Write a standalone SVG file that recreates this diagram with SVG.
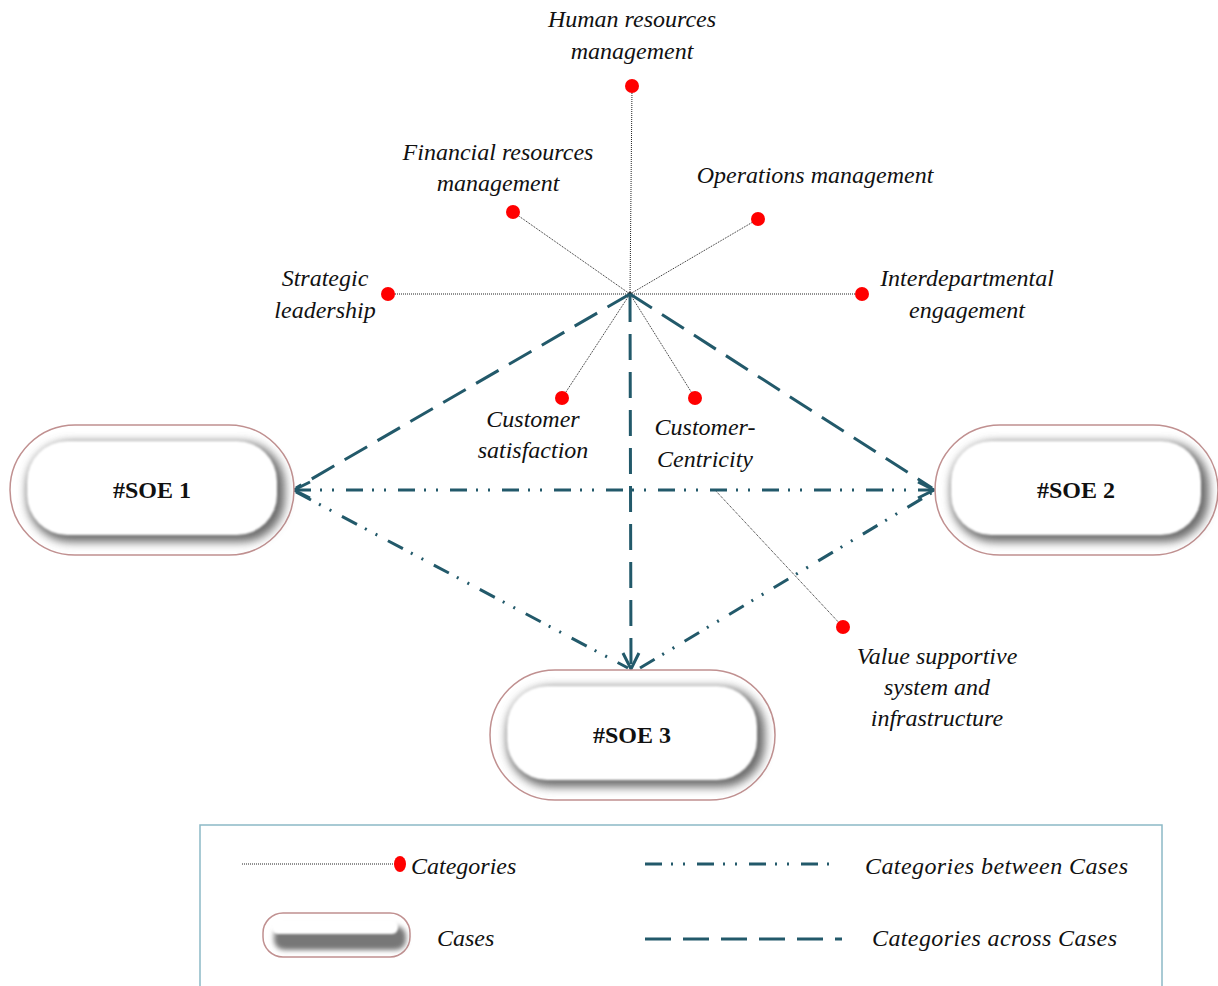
<svg xmlns="http://www.w3.org/2000/svg" width="1218" height="986" viewBox="0 0 1218 986">
<style>
.lbl{font-family:"Liberation Serif","Times New Roman",serif;font-style:italic;font-size:24px;fill:#111;text-anchor:middle}
.leg{font-family:"Liberation Serif","Times New Roman",serif;font-style:italic;font-size:24px;fill:#111}
.case{font-family:"Liberation Serif","Times New Roman",serif;font-weight:bold;font-size:24px;fill:#111;text-anchor:middle}
.cat{stroke:#222;stroke-width:1;stroke-dasharray:1 1;fill:none}
.dot{fill:#f00}
.across{stroke:#22596a;stroke-width:3;stroke-dasharray:26 12;fill:none}
.between{stroke:#22596a;stroke-width:3;stroke-dasharray:17 9 2 10 2 12;fill:none}
.outer{fill:#fff;stroke:#c09090;stroke-width:1.5}
.shade{fill:#6a6a6a;filter:url(#blur)}
.inner{fill:#fff;filter:url(#soft)}
</style>
<defs>
<filter id="blur" x="-20%" y="-30%" width="140%" height="160%"><feGaussianBlur stdDeviation="5"/></filter>
<filter id="soft" x="-10%" y="-20%" width="120%" height="140%"><feGaussianBlur stdDeviation="1.2"/></filter>
<filter id="blur2" x="-20%" y="-50%" width="140%" height="200%"><feGaussianBlur stdDeviation="2.5"/></filter>
<marker id="arr" markerUnits="userSpaceOnUse" markerWidth="20" markerHeight="20" refX="17" refY="9" orient="auto-start-reverse" viewBox="0 0 20 18">
<path d="M1,1 L17,9 L1,17" fill="none" stroke="#22596a" stroke-width="3"/>
</marker>
</defs>
<rect width="1218" height="986" fill="#fff"/>

<g id="connectors">
<line class="cat" x1="630" y1="294" x2="632" y2="86"/>
<line class="cat" x1="630" y1="294" x2="513" y2="212"/>
<line class="cat" x1="630" y1="294" x2="758" y2="219"/>
<line class="cat" x1="630" y1="294" x2="388" y2="294"/>
<line class="cat" x1="630" y1="294" x2="862" y2="294"/>
<line class="cat" x1="630" y1="294" x2="562" y2="398"/>
<line class="cat" x1="630" y1="294" x2="695" y2="398"/>
<line class="cat" x1="715" y1="490" x2="843" y2="627"/>
<circle cx="630" cy="294" r="2" fill="#111"/>
<line class="across" x1="630" y1="294" x2="296" y2="488"/>
<line class="across" x1="630" y1="294" x2="932" y2="488"/>
<line class="across" x1="630" y1="296" x2="631" y2="669" marker-end="url(#arr)"/>
<line class="between" x1="294" y1="490" x2="934" y2="490" marker-start="url(#arr)" marker-end="url(#arr)"/>
<line class="between" x1="296" y1="492" x2="628" y2="668"/>
<line class="between" x1="640" y1="668" x2="933" y2="492"/>
</g>

<g id="cat-hr"><circle class="dot" cx="632" cy="86" r="7"/><text class="lbl" x="632" y="27">Human resources</text><text class="lbl" x="632" y="59">management</text></g>
<g id="cat-fin"><circle class="dot" cx="513" cy="212" r="7"/><text class="lbl" x="498" y="160">Financial resources</text><text class="lbl" x="498" y="191">management</text></g>
<g id="cat-ops"><circle class="dot" cx="758" cy="219" r="7"/><text class="lbl" x="815" y="183">Operations management</text></g>
<g id="cat-strat"><circle class="dot" cx="388" cy="294" r="7"/><text class="lbl" x="325" y="286">Strategic</text><text class="lbl" x="325" y="318">leadership</text></g>
<g id="cat-inter"><circle class="dot" cx="862" cy="294" r="7"/><text class="lbl" x="967" y="286">Interdepartmental</text><text class="lbl" x="967" y="318">engagement</text></g>
<g id="cat-cs"><circle class="dot" cx="562" cy="398" r="7"/><text class="lbl" x="533" y="427">Customer</text><text class="lbl" x="533" y="458">satisfaction</text></g>
<g id="cat-cc"><circle class="dot" cx="695" cy="398" r="7"/><text class="lbl" x="705" y="435">Customer-</text><text class="lbl" x="705" y="467">Centricity</text></g>
<g id="cat-value"><circle class="dot" cx="843" cy="627" r="7"/><text class="lbl" x="937" y="664">Value supportive</text><text class="lbl" x="937" y="695">system and</text><text class="lbl" x="937" y="726">infrastructure</text></g>

<g id="soe1">
<rect class="outer" x="10" y="425" width="284" height="130" rx="65"/>
<rect class="shade" x="27" y="442" width="258" height="100" rx="44"/>
<rect class="inner" x="27" y="441" width="250" height="94" rx="40"/>
<text class="case" x="152" y="498">#SOE 1</text>
</g>
<g id="soe2">
<rect class="outer" x="935" y="425" width="283" height="130" rx="65"/>
<rect class="shade" x="951" y="442" width="258" height="100" rx="44"/>
<rect class="inner" x="951" y="441" width="250" height="94" rx="40"/>
<text class="case" x="1076" y="498">#SOE 2</text>
</g>
<g id="soe3">
<rect class="outer" x="490" y="670" width="285" height="130" rx="65"/>
<rect class="shade" x="507" y="687" width="258" height="100" rx="44"/>
<rect class="inner" x="507" y="686" width="250" height="94" rx="40"/>
<text class="case" x="632" y="743">#SOE 3</text>
</g>

<g id="legend">
<rect x="200" y="825" width="962" height="200" fill="none" stroke="#8cb9c6" stroke-width="1.5"/>
<line class="cat" x1="242" y1="864" x2="396" y2="864"/>
<ellipse class="dot" cx="400" cy="864" rx="6" ry="8"/>
<text class="leg" x="411" y="874">Categories</text>
<line class="between" x1="645" y1="864" x2="832" y2="864"/>
<text class="leg" x="865" y="874" textLength="263">Categories between Cases</text>
<rect class="outer" x="263" y="913" width="147" height="44" rx="20"/>
<rect x="274" y="926" width="132" height="24" rx="10" fill="#777" filter="url(#blur2)"/>
<rect x="272" y="920" width="126" height="14" rx="6" fill="#fff" filter="url(#soft)"/>
<text class="leg" x="437" y="946">Cases</text>
<line class="across" x1="645" y1="939" x2="842" y2="939"/>
<text class="leg" x="872" y="946" textLength="245">Categories across Cases</text>
</g>
</svg>
